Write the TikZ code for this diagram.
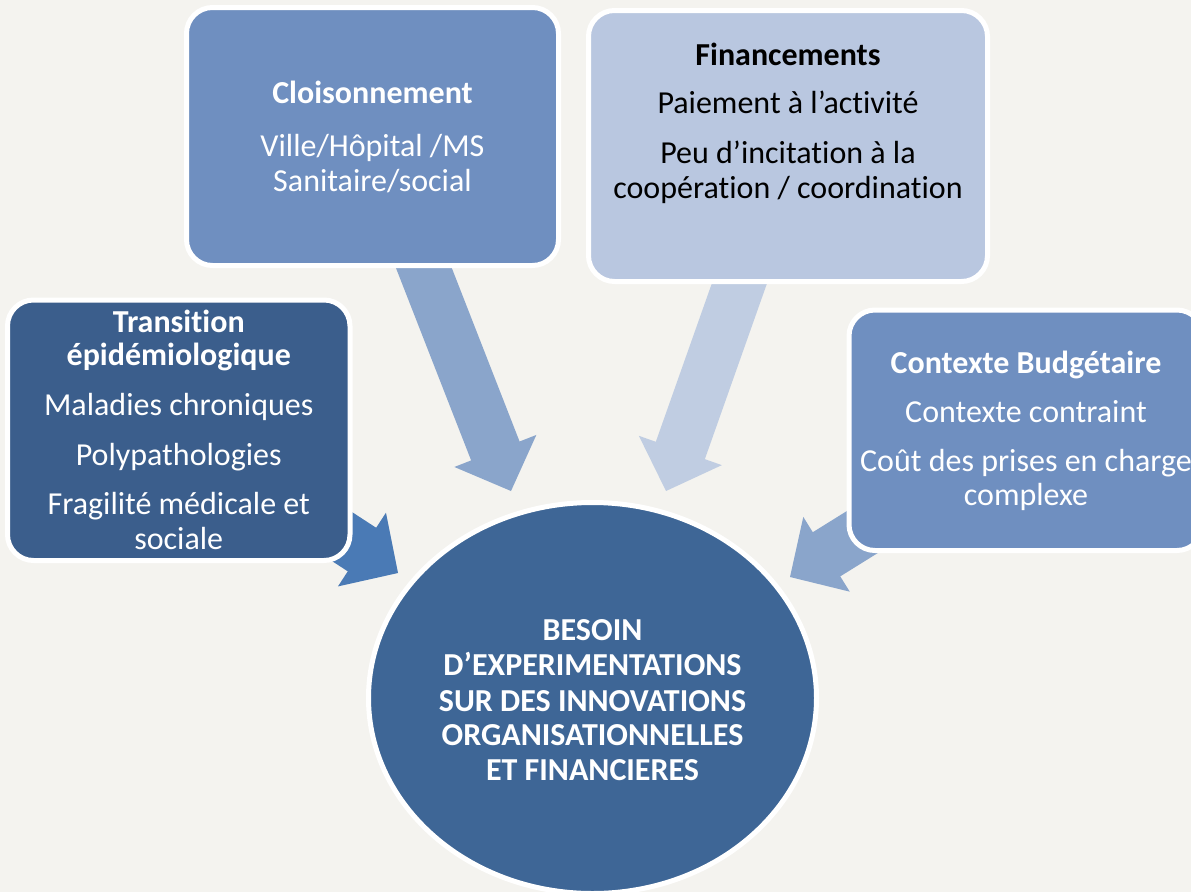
\documentclass[tikz,border=0pt]{standalone}
\usepackage{fontspec}
\setmainfont{Carlito}[Ligatures=NoCommon]
\usetikzlibrary{calc,shapes.geometric}

\definecolor{bg}{HTML}{F4F3EF}
\definecolor{navy}{HTML}{3B5E8C}
\definecolor{midblue}{HTML}{6F8FC0}
\definecolor{paleblue}{HTML}{B9C7E0}
\definecolor{circblue}{HTML}{3E6696}
\definecolor{arrowA}{HTML}{4A7AB5}
\definecolor{arrowB}{HTML}{8AA5CB}
\definecolor{arrowC}{HTML}{C0CDE2}

\pgfdeclarelayer{ground}
\pgfdeclarelayer{arrows}
\pgfsetlayers{ground,arrows,main}

% block arrow from #1 to the tip #2, filled with #3
\newcommand\blockarrow[3]{%
  \coordinate (ba-h) at ($(#2)!43pt!(#1)$);
  \fill[#3] ($(#1)!26pt!90:(#2)$) -- ($(ba-h)!26pt!90:(#2)$)
    -- ($(ba-h)!44pt!90:(#2)$) -- (#2) -- ($(ba-h)!44pt!-90:(#2)$)
    -- ($(ba-h)!26pt!-90:(#2)$) -- ($(#1)!26pt!-90:(#2)$) -- cycle;}

\begin{document}
\begin{tikzpicture}[x=1pt,y=-1pt,
  box/.style={rectangle, rounded corners=26pt, draw=white, line width=5pt,
    inner sep=0pt},
  line/.style={anchor=base, inner sep=0pt, text=white,
    font=\fontsize{32}{35}\selectfont},
  head/.style={line, font=\fontsize{32}{35}\selectfont\bfseries},
  dark/.style={text=black}]

\useasboundingbox (0,0) rectangle (1191,892);
\begin{pgfonlayer}{ground}
  \fill[bg] (0,0) rectangle (1191,892);
\end{pgfonlayer}

% boxes
\node[box, fill=navy, minimum width=342.5pt, minimum height=260.5pt]
  (trans) at (178.75,430.25) {};
\node[box, fill=midblue, minimum width=372pt, minimum height=258pt]
  (cloi) at (372.5,136.5) {};
\node[box, fill=paleblue, minimum width=399pt, minimum height=271pt]
  (fin) at (788,146) {};
\node[box, fill=midblue, minimum width=354pt, minimum height=240.5pt]
  (budg) at (1026,430.25) {};

% central ellipse
\node[ellipse, draw=white, line width=5pt, fill=circblue, inner sep=0pt,
  minimum width=448pt, minimum height=391pt] (need) at (592.5,698) {};

% arrow tips
\coordinate (tipA) at (398,573);
\coordinate (tipB) at (511,491);
\coordinate (tipC) at (666,491);
\coordinate (tipD) at (790,577);

\begin{pgfonlayer}{arrows}
  \blockarrow{trans.center}{tipA}{arrowA}
  \blockarrow{cloi.center}{tipB}{arrowB}
  \blockarrow{fin.center}{tipC}{arrowC}
  \blockarrow{budg.center}{tipD}{arrowB}
\end{pgfonlayer}

% texts: Transition
\node[head] (t1) at (178.75,332.5) {Transition};
\node[head] (t2) at (178.75,365) {épidémiologique};
\node[line] (t3) at (178.75,415.5) {Maladies chroniques};
\node[line] (t4) at (178.75,465) {Polypathologies};
\node[line] (t5) at (178.75,514.5) {Fragilité médicale et};
\node[line] (t6) at (178.75,549) {sociale};

% texts: Cloisonnement
\node[head] (c1) at (372.5,103.5) {Cloisonnement};
\node[line] (c2) at (372.5,156.5) {Ville/Hôpital /MS};
\node[line] (c3) at (372.5,191.5) {Sanitaire/social};

% texts: Financements
\node[head, dark] (f1) at (788,65) {Financements};
\node[line, dark] (f2) at (788,113.5) {Paiement à l’activité};
\node[line, dark] (f3) at (788,163.5) {Peu d’incitation à la};
\node[line, dark] (f4) at (788,198) {coopération / coordination};

% texts: Contexte budgétaire
\node[head] (b1) at (1026,373.5) {Contexte Budgétaire};
\node[line] (b2) at (1026,422) {Contexte contraint};
\node[line] (b3) at (1026,471) {Coût des prises en charge};
\node[line] (b4) at (1026,505.5) {complexe};

% texts: central need
\node[head] (n1) at (592.5,640) {BESOIN};
\node[head] (n2) at (592.5,675) {D’EXPERIMENTATIONS};
\node[head] (n3) at (592.5,711) {SUR DES INNOVATIONS};
\node[head] (n4) at (592.5,745) {ORGANISATIONNELLES};
\node[head] (n5) at (592.5,780.5) {ET FINANCIERES};
\end{tikzpicture}
\end{document}
